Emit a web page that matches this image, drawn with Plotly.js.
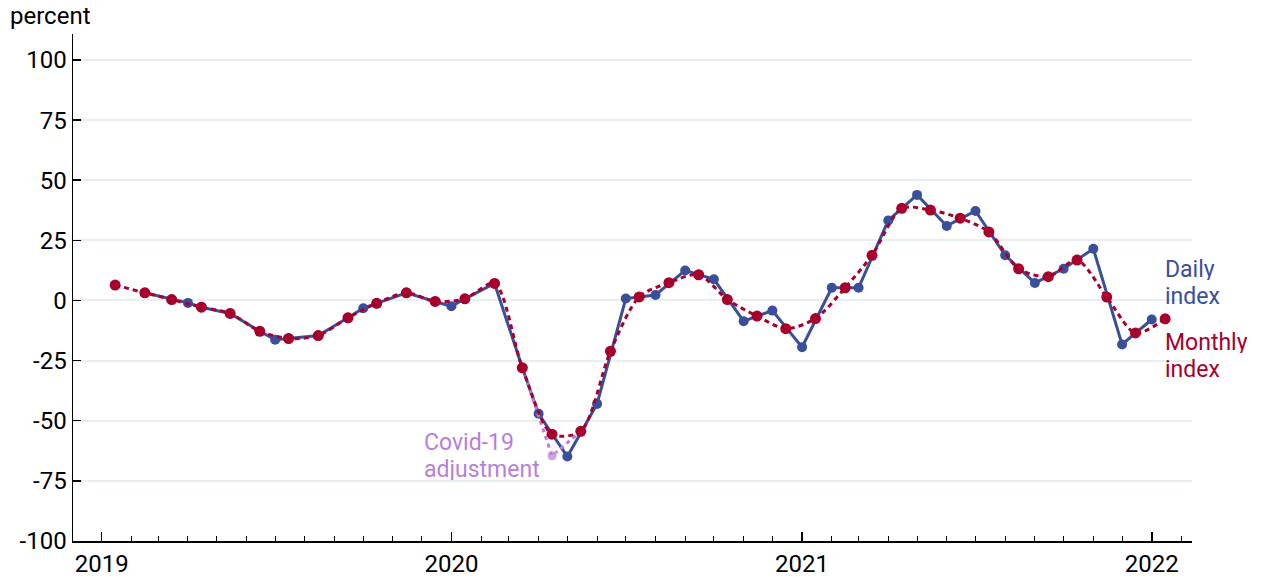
<!DOCTYPE html>
<html>
<head>
<meta charset="utf-8">
<script src="https://cdn.plot.ly/plotly-3.0.1.min.js"></script>
<style>html,body{margin:0;padding:0;background:#fff;}#chart{width:1264px;height:577px;}</style>
</head>
<body>
<div id="chart"></div>
<script>
// Monthly index (mid-month observations)
const monthlyDates = ['2019-01-15','2019-02-15','2019-03-15','2019-04-15','2019-05-15','2019-06-15','2019-07-15','2019-08-15','2019-09-15','2019-10-15','2019-11-15','2019-12-15',
  '2020-01-15','2020-02-15','2020-03-15','2020-04-15','2020-05-15','2020-06-15','2020-07-15','2020-08-15','2020-09-15','2020-10-15','2020-11-15','2020-12-15',
  '2021-01-15','2021-02-15','2021-03-15','2021-04-15','2021-05-15','2021-06-15','2021-07-15','2021-08-15','2021-09-15','2021-10-15','2021-11-15','2021-12-15',
  '2022-01-15'];
const monthlyValues = [6.4, 3.2, 0.4, -2.8, -5.4, -12.8, -15.8, -14.6, -7.2, -1.2, 3.2, -0.4,
  0.7, 7.1, -28.0, -55.6, -54.4, -21.1, 1.5, 7.4, 10.7, 0.4, -6.5, -11.7,
  -7.5, 5.3, 18.8, 38.3, 37.6, 34.2, 28.5, 13.2, 9.9, 16.8, 1.4, -13.5,
  -7.6];

// Daily index
const dailyDates = ['2019-02-15','2019-03-15','2019-04-01','2019-04-15','2019-05-15','2019-06-15','2019-07-01','2019-07-15','2019-08-15','2019-09-15','2019-10-01','2019-10-15','2019-11-15','2019-12-15',
  '2020-01-01','2020-01-15','2020-02-15','2020-03-15','2020-04-01','2020-05-01','2020-06-01','2020-07-01','2020-08-01','2020-09-01','2020-10-01','2020-11-01','2020-12-01',
  '2021-01-01','2021-02-01','2021-03-01','2021-04-01','2021-05-01','2021-06-01','2021-07-01','2021-08-01','2021-09-01','2021-10-01','2021-11-01','2021-12-01',
  '2022-01-01'];
const dailyValues = [3.2, 0.4, -1.0, -2.8, -5.4, -12.8, -16.3, -15.8, -14.6, -7.2, -3.2, -1.2, 3.2, -0.4,
  -2.4, 0.7, 7.1, -28.0, -47.1, -64.9, -43.0, 0.8, 2.3, 12.5, 8.8, -8.6, -4.2,
  -19.4, 5.3, 5.3, 33.3, 43.9, 31.0, 37.2, 18.8, 7.3, 13.2, 21.5, -18.3,
  -7.9];

// Covid-19 adjustment of the monthly index
const covidDates = ['2020-03-15','2020-04-15','2020-05-15'];
const covidValues = [-28.0, -64.6, -54.4];

const yTickVals = [-100, -75, -50, -25, 0, 25, 50, 75, 100];
const yTickText = ['-100', '-75', '-50', '-25', '0', '25', '50', '75', '100'];

const BLUE = '#3a4f9b';
const RED = '#a8002c';
const PURPLE = '#b77fd9';
const FONT = 'Roboto, "Noto Sans", sans-serif';
const FS = 24;
const AFS = 23;

const traces = [
  {
    x: dailyDates, y: dailyValues, type: 'scatter', mode: 'lines+markers',
    line: {color: BLUE, width: 3}, marker: {color: BLUE, size: 10}, cliponaxis: false
  },
  {
    x: covidDates, y: covidValues, type: 'scatter', mode: 'lines+markers',
    line: {color: PURPLE, width: 3, dash: '4px,4px'},
    marker: {color: PURPLE, size: [0, 10, 0]}
  },
  {
    x: monthlyDates, y: monthlyValues, type: 'scatter', mode: 'lines+markers',
    line: {color: RED, width: 3, dash: '5px,4px', shape: 'spline', smoothing: 0.8},
    marker: {color: RED, size: 11}, cliponaxis: false
  }
];

const ann = (x, y, text, color) => ({
  x: x, y: y, xref: 'x', yref: 'y', text: text, showarrow: false,
  xanchor: 'left', yanchor: 'middle', height: 21, borderpad: 0, valign: 'middle',
  font: {family: FONT, size: AFS, color: color}
});

const layout = {
  width: 1264, height: 577,
  margin: {l: 73, r: 72, t: 34, b: 36},
  paper_bgcolor: '#ffffff', plot_bgcolor: '#ffffff',
  showlegend: false,
  font: {family: FONT, size: FS, color: '#000'},
  xaxis: {
    type: 'date',
    range: ['2018-12-02', '2022-02-12'],
    tick0: '2019-01-01', dtick: 'M12', tickformat: '%Y',
    ticks: 'inside', ticklen: 9, tickwidth: 1.5, tickcolor: '#000',
    minor: {dtick: 'M1', ticks: 'inside', ticklen: 5, tickwidth: 1, tickcolor: '#000', showgrid: false},
    showgrid: false, zeroline: false,
    showline: true, linecolor: '#000', linewidth: 2,
    tickfont: {family: FONT, size: FS, color: '#000'}
  },
  yaxis: {
    range: [-100, 110.8],
    tickvals: yTickVals, ticktext: yTickText,
    ticks: 'inside', ticklen: 8, tickwidth: 1.5, tickcolor: '#000',
    showgrid: true, gridcolor: '#e7efef', gridwidth: 2,
    zeroline: false,
    showline: true, linecolor: '#000', linewidth: 1.5,
    tickfont: {family: FONT, size: FS, color: '#000'}
  },
  annotations: [
    {xref: 'paper', yref: 'paper', x: -0.058, y: 1.035, xanchor: 'left', yanchor: 'middle',
     text: 'percent', showarrow: false, font: {family: FONT, size: FS, color: '#000'}},
    ann('2022-01-14', 12.8, 'Daily', BLUE),
    ann('2022-01-14', 1.5, 'index', BLUE),
    ann('2022-01-14', -17.3, 'Monthly', RED),
    ann('2022-01-14', -28.6, 'index', RED),
    ann('2019-12-02', -58.9, 'Covid-19', PURPLE),
    ann('2019-12-02', -70.2, 'adjustment', PURPLE)
  ]
};

Plotly.newPlot('chart', traces, layout, {displayModeBar: false, staticPlot: true});
</script>
</body>
</html>
